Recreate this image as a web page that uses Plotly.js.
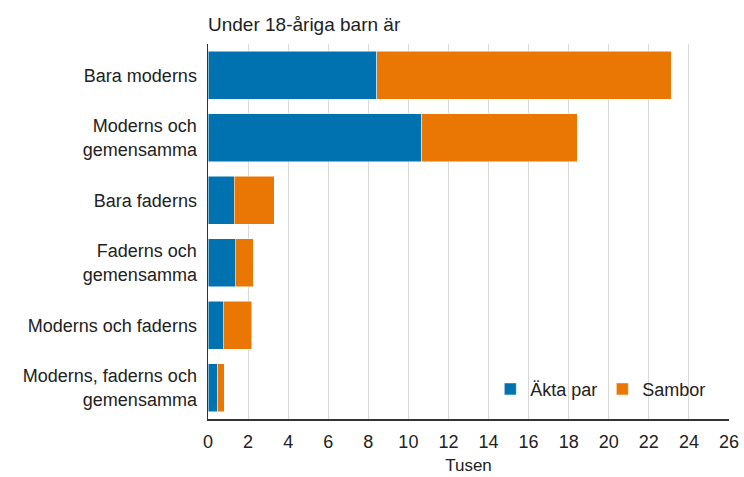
<!DOCTYPE html>
<html>
<head>
<meta charset="utf-8">
<script src="https://cdn.plot.ly/plotly-3.0.1.min.js"></script>
<style>
  body { margin: 0; background: #fff; }
  #chart { width: 744px; height: 477px; }
</style>
</head>
<body>
<div id="chart"></div>
<script>
// kategorier (uppifrån och ned)
const kategorier = [
  "Bara moderns",
  "Moderns och<br>gemensamma",
  "Bara faderns",
  "Faderns och<br>gemensamma",
  "Moderns och faderns",
  "Moderns, faderns och<br>gemensamma"
];

// tusen barn
const aktaPar = [8.42, 10.67, 1.30, 1.37, 0.75, 0.48];
const sambor = [14.71, 7.75, 2.00, 0.88, 1.43, 0.34];

const xTicks = [0, 2, 4, 6, 8, 10, 12, 14, 16, 18, 20, 22, 24, 26];

const data = [
  {
    name: "Äkta par", type: "bar", orientation: "h",
    y: kategorier, x: aktaPar,
    marker: { color: "#0072b0", line: { color: "#ffffff", width: 0.5 } },
    hoverinfo: "x+name"
  },
  {
    name: "Sambor", type: "bar", orientation: "h",
    y: kategorier, x: sambor,
    marker: { color: "#ea7604", line: { color: "#ffffff", width: 0.5 } },
    hoverinfo: "x+name"
  }
];

const layout = {
  width: 744, height: 477,
  barmode: "stack",
  bargap: 0.23,
  margin: { l: 208, r: 15, t: 44, b: 58 },
  paper_bgcolor: "#ffffff",
  plot_bgcolor: "#ffffff",
  font: { family: "Liberation Sans, Arial, sans-serif", size: 18, color: "#222" },
  title: {
    text: "Under 18-åriga barn är",
    x: 0, xref: "paper", xanchor: "left",
    y: 0.95, yref: "container", yanchor: "middle",
    font: { size: 19, color: "#222" }
  },
  xaxis: {
    range: [0, 26],
    tickvals: xTicks,
    showgrid: true, gridcolor: "#d9d9d9", gridwidth: 1,
    zeroline: false,
    showline: true, linecolor: "#333", linewidth: 1.5,
    ticks: "", ticklen: 0,
    ticklabelstandoff: 6,
    tickfont: { size: 18 },
    title: { text: "Tusen", standoff: 8, font: { size: 17 } },
    fixedrange: true
  },
  yaxis: {
    categoryorder: "array",
    categoryarray: kategorier,
    autorange: "reversed",
    showline: true, linecolor: "#333", linewidth: 1.5,
    showgrid: false,
    ticks: "", ticklabelstandoff: 6,
    tickfont: { size: 18 },
    fixedrange: true
  },
  legend: {
    orientation: "h",
    x: 0.966, xanchor: "right",
    y: 0.03, yanchor: "bottom",
    bgcolor: "rgba(0,0,0,0)",
    font: { size: 18 },
    itemwidth: 30,
    traceorder: "normal"
  },
  showlegend: true
};

Plotly.newPlot("chart", data, layout, { displayModeBar: false, staticPlot: true });
</script>
</body>
</html>
